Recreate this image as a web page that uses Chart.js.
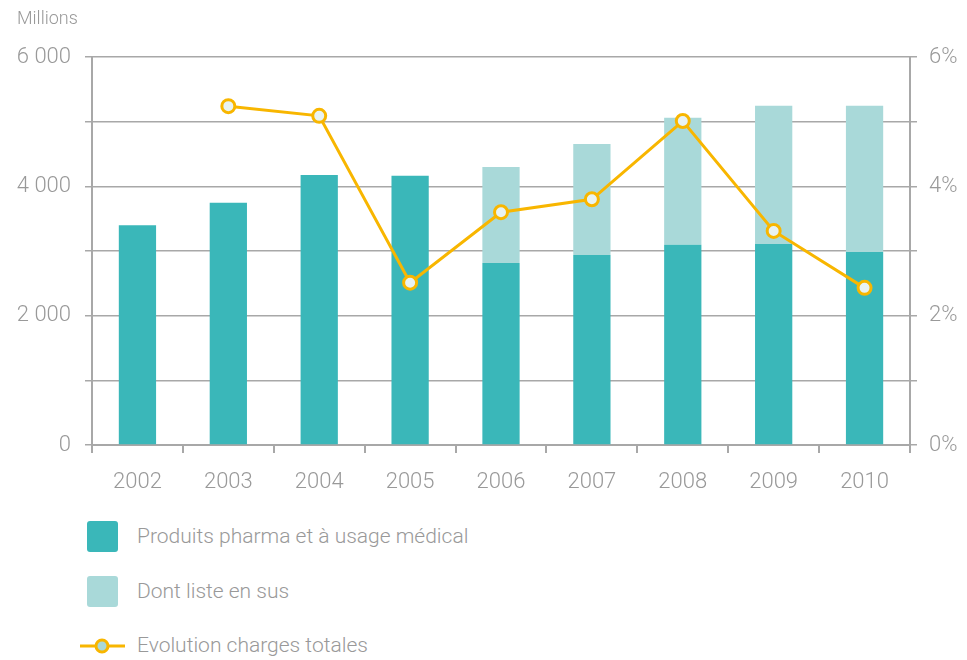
<!DOCTYPE html>
<html>

<head>
    <meta charset="UTF-8">
    <title>Produits pharma</title>
    <script src="https://cdn.jsdelivr.net/npm/chart.js"></script>
    <style>
        body {
            margin: 0;
            background: #fff;
            font-family: Roboto, Arial, sans-serif;
            font-weight: 300;
            color: #999;
        }

        .page {
            position: relative;
            width: 967px;
            height: 660px;
        }

        .unit {
            position: absolute;
            left: 17px;
            top: 7px;
            font-size: 18px;
        }

        .chart-box {
            position: absolute;
            left: 0;
            top: 0;
            width: 967px;
            height: 500px;
        }

        .legend {
            position: absolute;
            left: 0;
            top: 0;
        }

        .legend-item {
            position: absolute;
            white-space: nowrap;
            font-size: 21px;
            line-height: 26px;
        }

        .swatch {
            position: absolute;
            width: 31px;
            height: 31px;
            border-radius: 3px;
        }
    </style>
</head>

<body>
    <div class="page">
        <div class="chart-box">
            <canvas id="chart" width="967" height="500"></canvas>
        </div>
        <div class="unit">Millions</div>

        <div class="legend">
            <div class="swatch" style="left:87px; top:521px; background:#3ab7b9;"></div>
            <div class="legend-item" style="left:137px; top:523px;">Produits pharma et à usage médical</div>

            <div class="swatch" style="left:87px; top:576px; background:#a9d9d9;"></div>
            <div class="legend-item" style="left:137px; top:578px;">Dont liste en sus</div>

            <canvas id="lineKey" width="50" height="20" style="position:absolute; left:79px; top:636px;"></canvas>
            <div class="legend-item" style="left:137px; top:632px;">Evolution charges totales</div>
        </div>
    </div>

    <script>
        // data
        var years = ['2002', '2003', '2004', '2005', '2006', '2007', '2008', '2009', '2010'];
        var pharma = [3400, 3745, 4175, 4165, 2815, 2940, 3095, 3110, 2985];
        var listeEnSus = [0, 0, 0, 0, 1485, 1715, 1965, 2135, 2260];
        var evolution = [null, 5.24, 5.09, 2.51, 3.60, 3.80, 5.01, 3.31, 2.43];

        var teal = '#3ab7b9';
        var lightTeal = '#a9d9d9';
        var yellow = '#f8b600';
        var gridGrey = '#a8a8a8';
        var textGrey = '#999';

        Chart.defaults.font.family = 'Roboto, Arial, sans-serif';
        Chart.defaults.font.weight = 300;
        Chart.defaults.color = textGrey;

        function thousands(v) {
            return String(v).replace(/\B(?=(\d{3})+(?!\d))/g, ' ');
        }

        var ctx = document.getElementById('chart').getContext('2d');
        var chart = new Chart(ctx, {
            type: 'bar',
            data: {
                labels: years,
                datasets: [{
                    type: 'line',
                    label: 'Evolution charges totales',
                    data: evolution,
                    yAxisID: 'y1',
                    borderColor: yellow,
                    borderWidth: 3,
                    pointRadius: 6.5,
                    pointBorderWidth: 3,
                    pointBackgroundColor: '#e8f3f3',
                    pointBorderColor: yellow,
                    tension: 0,
                    order: 0
                }, {
                    label: 'Produits pharma et à usage médical',
                    data: pharma,
                    backgroundColor: teal,
                    yAxisID: 'y',
                    stack: 'a',
                    order: 1
                }, {
                    label: 'Dont liste en sus',
                    data: listeEnSus,
                    backgroundColor: lightTeal,
                    yAxisID: 'y',
                    stack: 'a',
                    order: 2
                }]
            },
            options: {
                responsive: false,
                animation: false,
                layout: {
                    padding: { top: 57, left: 0, right: 0, bottom: 0 }
                },
                plugins: {
                    legend: { display: false },
                    tooltip: { enabled: false }
                },
                datasets: {
                    bar: {
                        categoryPercentage: 1,
                        barPercentage: 0.41
                    }
                },
                scales: {
                    x: {
                        stacked: true,
                        offset: true,
                        grid: {
                            offset: true,
                            drawOnChartArea: false,
                            color: gridGrey,
                            lineWidth: 2,
                            tickLength: 8
                        },
                        border: { color: gridGrey, width: 2 },
                        ticks: {
                            font: { size: 22 },
                            color: textGrey,
                            padding: 16
                        },
                        afterFit: function (scale) { scale.height = 55; }
                    },
                    y: {
                        stacked: true,
                        position: 'left',
                        min: 0,
                        max: 6000,
                        grid: {
                            color: gridGrey,
                            lineWidth: 1.5,
                            tickLength: 7
                        },
                        border: { color: gridGrey, width: 2 },
                        ticks: {
                            stepSize: 1000,
                            font: { size: 22 },
                            color: textGrey,
                            padding: 14,
                            callback: function (v) {
                                return v % 2000 === 0 ? thousands(v) : '';
                            }
                        },
                        afterFit: function (scale) { scale.width = 92; }
                    },
                    y1: {
                        position: 'right',
                        min: 0,
                        max: 6,
                        grid: {
                            drawOnChartArea: false,
                            color: gridGrey,
                            lineWidth: 1.5,
                            tickLength: 7
                        },
                        border: { color: gridGrey, width: 2 },
                        ticks: {
                            stepSize: 1,
                            font: { size: 22 },
                            color: textGrey,
                            padding: 12,
                            callback: function (v) {
                                return v % 2 === 0 ? v + '%' : '';
                            }
                        },
                        afterFit: function (scale) { scale.width = 57; }
                    }
                }
            }
        });

        // small line + marker key for the legend
        var k = document.getElementById('lineKey').getContext('2d');
        k.strokeStyle = yellow;
        k.lineWidth = 3;
        k.beginPath();
        k.moveTo(1, 10);
        k.lineTo(46, 10);
        k.stroke();
        k.beginPath();
        k.arc(23, 10, 6, 0, Math.PI * 2);
        k.fillStyle = lightTeal;
        k.fill();
        k.stroke();
    </script>
</body>

</html>
